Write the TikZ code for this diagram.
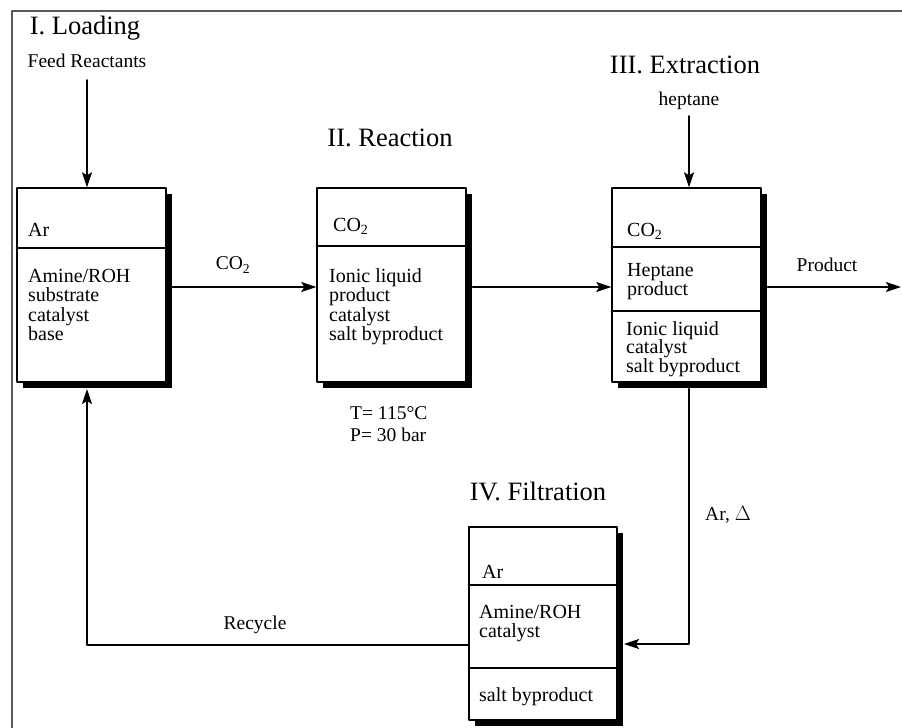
\documentclass[tikz,border=0pt]{standalone}
\usepackage{fontspec}
\setmainfont{Liberation Serif}
\usetikzlibrary{arrows.meta,shadows}

\begin{document}
\begin{tikzpicture}[line cap=round,line join=round,>={Stealth[length=15pt,width=10pt,inset=3pt]},x=1pt,y=1pt,
    unit/.style={draw,line width=1.4pt,fill=white,minimum width=149pt,minimum height=194pt,inner sep=0pt,
        drop shadow={shadow xshift=6pt,shadow yshift=-6pt,fill=black,opacity=1}},
    txt/.style={anchor=north west,inner sep=0pt,align=left,font=\fontsize{20}{19.5}\selectfont},
    lbl/.style={inner sep=0pt,font=\fontsize{19.5}{22}\selectfont},
    ttl/.style={inner sep=0pt,font=\fontsize{26.5}{30}\selectfont},
    flow/.style={line width=1.8pt,->}]
                \useasboundingbox (0,0) rectangle (902,-728);
                \draw [black!65,line width=2pt,line cap=butt] (12,-732) -- (12,-11) -- (906,-11);
                % the four stages
                \node [unit] (load) at (91.5,-285) {};
                \node [unit] (react) at (391.5,-285) {};
                \node [unit] (extr) at (686.5,-285) {};
                \node [unit,minimum width=148pt,minimum height=193pt] (filt) at (543,-623.5) {};
                \draw [line width=1.4pt] (load.west |- 0,-248) -- (load.east |- 0,-248);
                \draw [line width=1.4pt] (react.west |- 0,-246) -- (react.east |- 0,-246);
                \draw [line width=1.4pt] (extr.west |- 0,-247) -- (extr.east |- 0,-247);
                \draw [line width=1.4pt] (extr.west |- 0,-311) -- (extr.east |- 0,-311);
                \draw [line width=1.4pt] (filt.west |- 0,-585) -- (filt.east |- 0,-585);
                \draw [line width=1.4pt] (filt.west |- 0,-668) -- (filt.east |- 0,-668);
                % contents
                \node [txt] (loadgas) at (28,-223) {Ar};
                \node [txt] (loadliq) at (28,-269) {Amine/ROH\\substrate\\catalyst\\base};
                \node [txt] (reactgas) at (333,-218) {CO\textsubscript{2}};
                \node [txt] (reactliq) at (329,-268) {Ionic liquid\\product\\catalyst\\salt byproduct};
                \node [txt] (extrgas) at (627,-223) {CO\textsubscript{2}};
                \node [txt] (extrtop) at (627,-263) {Heptane\\product};
                \node [txt,font=\fontsize{20}{18.5}\selectfont] (extrbot) at (626,-321) {Ionic liquid\\catalyst\\salt byproduct};
                \node [txt] (filtgas) at (482,-565) {Ar};
                \node [txt] (filtliq) at (479,-605) {Amine/ROH\\catalyst};
                \node [txt] (filtsalt) at (479,-687) {salt byproduct};
                % titles
                \node [ttl] (t1) at (85,-28) {I. Loading};
                \node [ttl] (t2) at (390,-138) {II. Reaction};
                \node [ttl] (t3) at (685,-65) {III. Extraction};
                \node [ttl] (t4) at (538,-492) {IV. Filtration};
                % labels
                \node [lbl] (feed) at (87,-61) {Feed Reactants};
                \node [lbl] (hept) at (689,-101) {heptane};
                \node [lbl] (co2) at (233,-265) {CO\textsubscript{2}};
                \node [lbl] (prod) at (827,-265) {Product};
                \node [lbl] (recy) at (255,-625) {Recycle};
                \node [lbl] (heat) at (728,-515) {Ar, $\Delta$};
                \node [lbl,anchor=north west,align=left] (cond) at (350,-406) {T= 115°C\\P= 30 bar};
                % streams
                \coordinate (out) at (901,-287);
                \coordinate (filtin) at (624,-644);
                \coordinate (filtout) at (469,-645);
                \coordinate (loadin) at (87,-389);
                \draw [flow] ([yshift=-12pt]feed.south) -- (feed.south |- load.north);
                \draw [flow] ([yshift=-6pt]hept.south) -- (hept.south |- extr.north);
                \draw [flow] ([xshift=6pt,yshift=-2pt]load.east) -- ([yshift=-2pt]react.west);
                \draw [flow] ([xshift=6pt,yshift=-2pt]react.east) -- ([yshift=-2pt]extr.west);
                \draw [flow] ([xshift=6pt,yshift=-2pt]extr.east) -- (out);
                \draw [flow] ([xshift=2.5pt,yshift=-6pt]extr.south) |- (filtin);
                \draw [flow] (filtout) -| (loadin);
\end{tikzpicture}
\end{document}
